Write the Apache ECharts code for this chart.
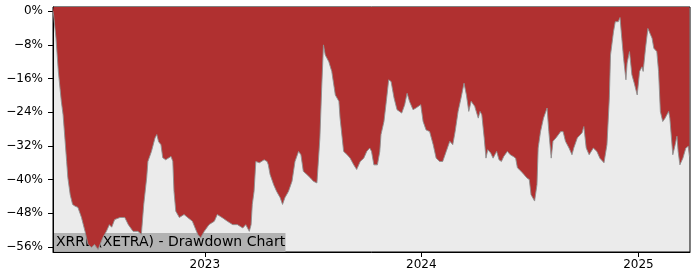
<!DOCTYPE html>
<html>
<head>
<meta charset="utf-8">
<script src="https://cdn.jsdelivr.net/npm/echarts@6/dist/echarts.min.js"></script>
<style>
html,body{margin:0;padding:0;background:#fff;}
#chart{width:700px;height:280px;}
</style>
</head>
<body>
<div id="chart"></div>
<script>
const dates = ['2022-04-20','2022-04-21','2022-04-25','2022-04-29','2022-05-04','2022-05-07','2022-05-10','2022-05-13','2022-05-15','2022-05-19',
'2022-05-23','2022-05-27','2022-06-01','2022-06-07','2022-06-13','2022-06-18','2022-06-24','2022-06-29','2022-07-05','2022-07-13',
'2022-07-19','2022-07-24','2022-07-28','2022-08-02','2022-08-11','2022-08-19','2022-08-25','2022-09-02','2022-09-10','2022-09-16',
'2022-09-20','2022-09-25','2022-09-27','2022-10-03','2022-10-09','2022-10-12','2022-10-15','2022-10-19','2022-10-22','2022-10-27',
'2022-11-05','2022-11-08','2022-11-10','2022-11-13','2022-11-19','2022-11-27','2022-12-03','2022-12-11','2022-12-20','2022-12-25',
'2022-12-31','2023-01-08','2023-01-17','2023-01-22','2023-01-31','2023-02-08','2023-02-17','2023-02-25','2023-03-06','2023-03-11',
'2023-03-17','2023-03-20','2023-03-22','2023-03-25','2023-03-28','2023-04-03','2023-04-11','2023-04-16','2023-04-18','2023-04-21',
'2023-04-27','2023-05-02','2023-05-08','2023-05-12','2023-05-16','2023-05-22','2023-05-28','2023-06-02','2023-06-08','2023-06-12',
'2023-06-16','2023-06-22','2023-06-28','2023-07-03','2023-07-09','2023-07-12','2023-07-14','2023-07-17','2023-07-20','2023-07-23',
'2023-07-29','2023-08-03','2023-08-09','2023-08-15','2023-08-17','2023-08-23','2023-08-29','2023-09-03','2023-09-09','2023-09-14',
'2023-09-20','2023-09-26','2023-10-01','2023-10-06','2023-10-09','2023-10-13','2023-10-19','2023-10-23','2023-10-25','2023-10-30',
'2023-11-03','2023-11-07','2023-11-11','2023-11-16','2023-11-21','2023-11-25','2023-11-29','2023-12-04','2023-12-08','2023-12-12',
'2023-12-18','2023-12-23','2023-12-31','2024-01-04','2024-01-09','2024-01-15','2024-01-21','2024-01-26','2024-02-01','2024-02-06',
'2024-02-12','2024-02-18','2024-02-23','2024-02-27','2024-03-03','2024-03-08','2024-03-13','2024-03-17','2024-03-21','2024-03-25',
'2024-03-31','2024-04-03','2024-04-06','2024-04-09','2024-04-12','2024-04-16','2024-04-19','2024-04-22','2024-04-27','2024-05-01',
'2024-05-07','2024-05-11','2024-05-15','2024-05-19','2024-05-25','2024-05-30','2024-06-04','2024-06-08','2024-06-11','2024-06-17',
'2024-06-22','2024-06-27','2024-07-01','2024-07-04','2024-07-10','2024-07-14','2024-07-16','2024-07-20','2024-07-25','2024-07-28',
'2024-07-31','2024-08-03','2024-08-07','2024-08-10','2024-08-15','2024-08-18','2024-08-23','2024-08-27','2024-08-31','2024-09-06',
'2024-09-11','2024-09-14','2024-09-20','2024-09-28','2024-10-01','2024-10-05','2024-10-10','2024-10-17','2024-10-23','2024-10-28',
'2024-11-04','2024-11-09','2024-11-13','2024-11-15','2024-11-20','2024-11-23','2024-11-26','2024-11-28','2024-12-01','2024-12-04',
'2024-12-07','2024-12-11','2024-12-13','2024-12-17','2024-12-21','2024-12-25','2024-12-30','2025-01-03','2025-01-07','2025-01-09',
'2025-01-13','2025-01-17','2025-01-20','2025-01-24','2025-01-27','2025-02-01','2025-02-04','2025-02-07','2025-02-11','2025-02-15',
'2025-02-21','2025-02-23','2025-02-28','2025-03-04','2025-03-07','2025-03-09','2025-03-12','2025-03-17','2025-03-22','2025-03-26','2025-03-28'];

const drawdown = [0,-0.9,-6.35,-14.3,-21.4,-24.6,-30.1,-35.7,-39.5,-43.6,
-45.9,-46.3,-46.6,-49.0,-52.3,-55.4,-56.1,-55.4,-56.6,-53.8,
-52.3,-50.7,-51.3,-49.5,-49.0,-49.0,-50.7,-52.3,-52.3,-53.0,
-45.9,-39.5,-35.7,-33.3,-30.1,-29.3,-31.0,-31.7,-34.8,-35.3,
-34.5,-35.7,-42.8,-47.5,-49.0,-48.3,-49.0,-49.9,-53.0,-53.8,
-52.3,-50.7,-49.9,-48.3,-49.1,-49.9,-50.7,-50.7,-51.5,-50.7,
-52.3,-50.7,-45.9,-42.8,-35.7,-36.0,-35.3,-35.7,-36.5,-38.8,
-41.2,-42.8,-44.3,-45.9,-44.3,-42.8,-40.4,-35.7,-33.3,-34.1,
-38.0,-38.8,-39.6,-40.4,-40.8,-41.2,-30.1,-18.3,-8.0,-10.4,
-12.0,-14.3,-19.9,-21.4,-25.4,-33.3,-34.1,-34.9,-36.5,-37.6,
-35.7,-34.9,-33.3,-32.5,-33.3,-36.5,-36.5,-33.3,-29.3,-26.2,
-21.4,-16.3,-16.7,-20.6,-23.4,-23.8,-24.2,-22.2,-19.5,-21.4,
-23.4,-23.0,-22.2,-26.2,-28.2,-28.6,-31.7,-34.9,-35.7,-35.7,
-33.3,-30.9,-31.7,-28.6,-23.8,-20.6,-17.1,-19.9,-23.8,-21.4,
-22.6,-23.0,-25.4,-23.8,-24.6,-30.1,-34.9,-32.9,-33.7,-34.9,
-33.3,-35.3,-35.7,-34.5,-33.3,-34.1,-34.5,-34.9,-37.2,-38.0,
-38.8,-39.6,-40.0,-43.6,-45.1,-41.2,-32.5,-28.6,-25.4,-25.8,
-23.0,-28.6,-34.9,-30.9,-30.1,-30.5,-28.6,-28.6,-30.9,-32.5,
-34.1,-32.5,-30.1,-28.9,-27.4,-32.5,-34.1,-32.5,-33.3,-34.9,
-36.0,-31.7,-20.6,-10.4,-4.9,-2.5,-2.1,-2.5,-1.5,-6.4,
-11.2,-16.3,-12.3,-9.6,-15.1,-17.1,-19.9,-14.3,-13.2,-14.3,
-8.8,-4.1,-4.1,-6.4,-8.8,-9.6,-14.3,-23.8,-26.2,-25.4,
-23.8,-25.4,-34.1,-31.7,-29.7,-33.3,-36.5,-34.9,-32.5,-32.1,-34.5];

const yTicks = [0,-8,-16,-24,-32,-40,-48,-56];
const xTickDates = ['2023-01-01','2024-01-01','2025-01-01'];
const xRange = ['2022-04-20','2025-03-29'];
const yRange = [-57.2, 1.0];
const titleText = 'XRRL (XETRA) - Drawdown Chart';

function toUTC(s){const p=s.split('-').map(Number);return Date.UTC(p[0],p[1]-1,p[2]);}

const n = Math.min(dates.length, drawdown.length);
const seriesData = [];
for (let i=0;i<n;i++) seriesData.push([toUTC(dates[i]), drawdown[i]]);

const chart = echarts.init(document.getElementById('chart'), null, {renderer:'canvas'});
const font = 'DejaVu Sans';
chart.setOption({
  animation:false,
  backgroundColor:'#ffffff',
  grid:{left:53, right:10, top:7, bottom:28, show:true, backgroundColor:'#ebebeb', borderColor:'#000', borderWidth:1},
  xAxis:{
    type:'value',
    min:toUTC(xRange[0]), max:toUTC(xRange[1]),
    axisLine:{show:true, onZero:false, lineStyle:{color:'#000', width:1}},
    axisTick:{show:true, length:5, lineStyle:{color:'#000'}, customValues:xTickDates.map(toUTC)},
    axisLabel:{show:true, margin:7, color:'#000', fontFamily:font, fontSize:12,
      customValues:xTickDates.map(toUTC),
      formatter:function(v){return String(new Date(v).getUTCFullYear());}},
    splitLine:{show:false}
  },
  yAxis:{
    type:'value',
    min:yRange[0], max:yRange[1],
    axisLine:{show:true, lineStyle:{color:'#000', width:1}},
    axisTick:{show:true, length:5, lineStyle:{color:'#000'}, customValues:yTicks},
    axisLabel:{show:true, margin:10, color:'#000', fontFamily:font, fontSize:12,
      customValues:yTicks,
      formatter:function(v){return v===0?'0%':'\u2212'+Math.abs(v)+'%';}},
    splitLine:{show:false}
  },
  series:[{
    type:'line',
    data:seriesData,
    symbol:'none',
    lineStyle:{color:'#909090', width:0.9},
    areaStyle:{color:'#b03030', opacity:1, origin:'end'},
    z:2
  }],
  graphic:[{
    type:'group', z:100,
    children:[
      {type:'rect', shape:{x:53.5, y:233, width:232, height:19}, style:{fill:'rgba(172,172,172,0.9)'}},
      {type:'text', x:56, y:242.8, style:{text:titleText, font:'14px "DejaVu Sans"', fill:'#000', verticalAlign:'middle'}}
    ]
  }]
});
</script>
</body>
</html>
